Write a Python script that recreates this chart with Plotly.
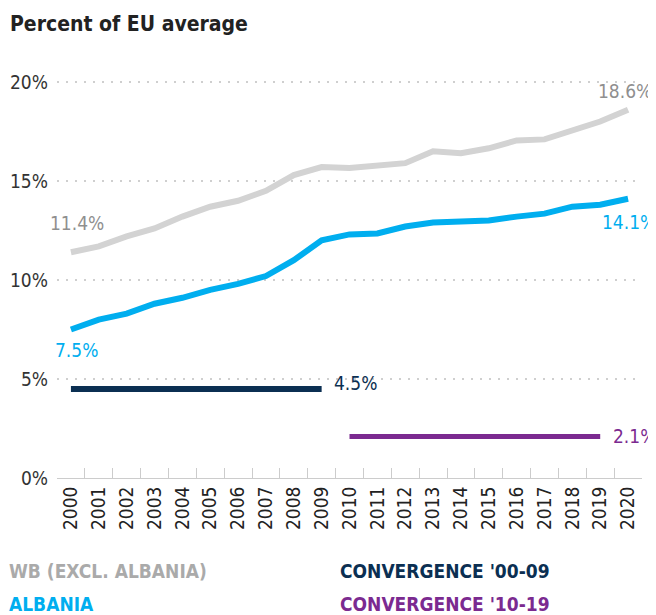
import plotly.graph_objects as go

years = [str(y) for y in range(2000, 2021)]
wb_excl_albania = [11.4, 11.7, 12.2, 12.6, 13.2, 13.7, 14.0, 14.5, 15.3, 15.7, 15.65,
                   15.75, 15.9, 16.5, 16.4, 16.65, 17.05, 17.1, 17.55, 18.0, 18.6]
albania = [7.5, 8.0, 8.3, 8.8, 9.1, 9.5, 9.8, 10.2, 11.0, 12.0, 12.3,
           12.35, 12.7, 12.9, 12.95, 13.0, 13.2, 13.35, 13.7, 13.8, 14.1]
conv_00_09_years = ["2000", "2009"]
conv_00_09 = [4.5, 4.5]
conv_10_19_years = ["2010", "2019"]
conv_10_19 = [2.1, 2.1]

FONT = "Liberation Sans Narrow, DejaVu Sans Condensed, Roboto, sans-serif"
GRAY, GRAY_TXT, BLUE, NAVY, PURPLE = "#d3d3d3", "#8f8f8f", "#00aeef", "#0b2f52", "#7b2a90"

fig = go.Figure()
fig.add_trace(go.Scatter(x=years, y=wb_excl_albania, mode="lines",
                         line=dict(color=GRAY, width=6)))
fig.add_trace(go.Scatter(x=years, y=albania, mode="lines",
                         line=dict(color=BLUE, width=6)))
fig.add_trace(go.Scatter(x=conv_00_09_years, y=conv_00_09, mode="lines",
                         line=dict(color=NAVY, width=6)))
fig.add_trace(go.Scatter(x=conv_10_19_years, y=conv_10_19, mode="lines",
                         line=dict(color=PURPLE, width=5)))

def lab(year, y, text, color, xanchor, yanchor, xshift=0, yshift=0):
    # category axis: position annotations by category index
    fig.add_annotation(x=years.index(year), y=y, text=text, showarrow=False, xanchor=xanchor,
                       yanchor=yanchor, xshift=xshift, yshift=yshift,
                       font=dict(family=FONT, size=19, color=color))

lab(years[-1], wb_excl_albania[-1], f"{wb_excl_albania[-1]}%", GRAY_TXT, "center", "bottom", -3, 6)
lab(years[0], wb_excl_albania[0], f"{wb_excl_albania[0]}%", GRAY_TXT, "center", "bottom", 6, 16)
lab(years[-1], albania[-1], f"{albania[-1]}%", BLUE, "center", "top", 1, -10)
lab(years[0], albania[0], f"{albania[0]}%", BLUE, "center", "top", 6, -8)
lab(conv_00_09_years[-1], conv_00_09[-1], f"{conv_00_09[-1]}%", NAVY, "left", "middle", 10, 6)
lab(conv_10_19_years[-1], conv_10_19[-1], f"{conv_10_19[-1]}%", PURPLE, "left", "middle", 11, 0)

# legend as coloured text
legend = [("WB (EXCL. ALBANIA)", "#aaaaaa", 0, -0.232), ("CONVERGENCE '00-09", NAVY, 0.48, -0.232),
          ("ALBANIA", BLUE, 0, -0.315), ("CONVERGENCE '10-19", PURPLE, 0.48, -0.315)]
for text, color, lx, ly in legend:
    fig.add_annotation(xref="paper", yref="paper", x=lx, y=ly,
                       text=f"<b>{text}</b>", showarrow=False, xanchor="left", yanchor="middle",
                       font=dict(family=FONT, size=19, color=color),
                       xshift=-50 if lx == 0 else 0)

fig.add_annotation(xref="paper", yref="paper", x=0, y=1, xshift=-49, yshift=54,
                   text="<b>Percent of EU average</b>", showarrow=False,
                   xanchor="left", yanchor="middle",
                   font=dict(family=FONT, size=21, color="#222222"))

# page body keeps its default 8px margin, so the figure is 8px smaller each way
fig.update_layout(
    width=648, height=607, showlegend=False,
    paper_bgcolor="white", plot_bgcolor="white",
    margin=dict(l=49, r=14, t=70, b=137),
    font=dict(family=FONT, color="#333333"),
)
fig.update_xaxes(type="category", range=[-0.5, 20.5], tickson="boundaries",
                 ticks="inside", ticklen=10, tickcolor="#cccccc", tickangle=-90,
                 showline=True, linecolor="#cccccc", showgrid=False, automargin=False,
                 tickfont=dict(family=FONT, size=19, color="#222222"))
fig.update_yaxes(range=[0, 20.2], tickvals=[0, 5, 10, 15, 20],
                 ticktext=["0%", "5%", "10%", "15%", "20%"],
                 showgrid=True, gridcolor="#cfcfcf", griddash="2px,7px", gridwidth=2,
                 zeroline=False, ticks="", ticklabelstandoff=8, automargin=False,
                 tickfont=dict(family=FONT, size=19, color="#333333"))

fig.write_html("out.html")
